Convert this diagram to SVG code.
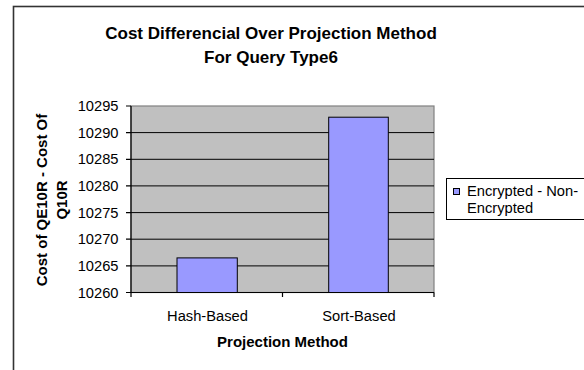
<svg xmlns="http://www.w3.org/2000/svg" width="584" height="370" viewBox="0 0 584 370">
  <style>
    text { font-family: "Liberation Sans", Arial, sans-serif; fill: #000; }
    .title { font-size: 17px; font-weight: bold; text-anchor: middle; }
    .axis-title { font-size: 15px; font-weight: bold; text-anchor: middle; }
    .tick { font-size: 14.7px; text-anchor: end; }
    .cat { font-size: 14.7px; text-anchor: middle; }
    .legend-text { font-size: 14.7px; }
    .grid { stroke: #000; stroke-width: 1; }
    .bar { fill: #9999FF; stroke: #000; stroke-width: 1; }
    .axis { stroke: #000; stroke-width: 1.2; fill: none; }
  </style>

  <rect x="0" y="0" width="584" height="370" fill="#fff"/>
  <!-- chart frame -->
  <rect x="13.5" y="6.5" width="620" height="420" fill="#fff" stroke="#333" stroke-width="1.6"/>

  <!-- title -->
  <g id="title">
    <text class="title" x="271" y="38.5">Cost Differencial Over Projection Method</text>
    <text class="title" x="271" y="62.5">For Query Type6</text>
  </g>

  <!-- plot area -->
  <g id="plot">
    <rect x="131" y="106" width="303" height="186.5" fill="#C0C0C0" stroke="#808080" stroke-width="1.2"/>
    <g class="grid">
      <line x1="131" y1="265.9" x2="434" y2="265.9"/>
      <line x1="131" y1="239.2" x2="434" y2="239.2"/>
      <line x1="131" y1="212.6" x2="434" y2="212.6"/>
      <line x1="131" y1="185.9" x2="434" y2="185.9"/>
      <line x1="131" y1="159.3" x2="434" y2="159.3"/>
      <line x1="131" y1="132.6" x2="434" y2="132.6"/>
    </g>
  </g>

  <!-- bars -->
  <g id="bar-hash">
    <rect class="bar" x="177" y="257.9" width="60.3" height="34.6"/>
  </g>
  <g id="bar-sort">
    <rect class="bar" x="328.7" y="117.2" width="59.6" height="175.3"/>
  </g>

  <!-- axes and ticks -->
  <g id="axes">
    <path class="axis" d="M131 106 V292.5 H434"/>
    <path class="axis" d="M126 106 H131 M126 132.6 H131 M126 159.3 H131 M126 185.9 H131 M126 212.6 H131 M126 239.2 H131 M126 265.9 H131 M126 292.5 H131"/>
    <path class="axis" d="M131 292.5 V297 M282.5 292.5 V297 M434 292.5 V297"/>
  </g>

  <!-- value labels -->
  <g id="y-labels">
    <text class="tick" x="118.5" y="111">10295</text>
    <text class="tick" x="118.5" y="137.6">10290</text>
    <text class="tick" x="118.5" y="164.3">10285</text>
    <text class="tick" x="118.5" y="190.9">10280</text>
    <text class="tick" x="118.5" y="217.6">10275</text>
    <text class="tick" x="118.5" y="244.2">10270</text>
    <text class="tick" x="118.5" y="270.9">10265</text>
    <text class="tick" x="118.5" y="297.5">10260</text>
  </g>

  <g id="x-labels">
    <text class="cat" x="207.5" y="320.5">Hash-Based</text>
    <text class="cat" x="359" y="320.5">Sort-Based</text>
  </g>

  <g id="axis-titles">
    <text class="axis-title" x="282.5" y="347">Projection Method</text>
    <text class="axis-title" transform="translate(46.5 200) rotate(-90)">Cost of QE10R - Cost Of</text>
    <text class="axis-title" transform="translate(66.5 200) rotate(-90)">Q10R</text>
  </g>

  <!-- legend -->
  <g id="legend">
    <rect x="446.5" y="178.5" width="160" height="41" fill="#fff" stroke="#000" stroke-width="1"/>
    <rect x="453.5" y="188.5" width="6" height="6" fill="#9999FF" stroke="#000" stroke-width="1"/>
    <text class="legend-text" x="467" y="196">Encrypted - Non-</text>
    <text class="legend-text" x="467" y="212.5">Encrypted</text>
  </g>
</svg>
